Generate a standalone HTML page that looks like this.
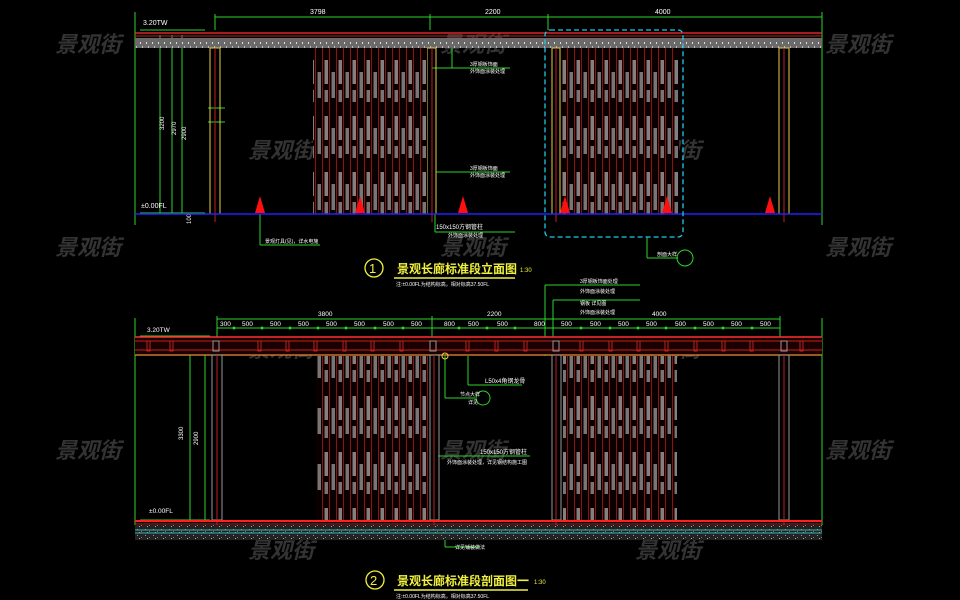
<!DOCTYPE html>
<html><head><meta charset="utf-8"><style>
html,body{margin:0;padding:0;background:#000;width:960px;height:600px;overflow:hidden}
svg{display:block}
text{font-family:"Liberation Sans","Noto Sans CJK SC",sans-serif}
</style></head><body>
<svg width="960" height="600" viewBox="0 0 960 600" xmlns="http://www.w3.org/2000/svg">
<defs>
<pattern id="scr" width="14" height="56" patternUnits="userSpaceOnUse">
<rect width="14" height="56" fill="#0a0000"/>
<line x1="0.5" y1="0" x2="0.5" y2="56" stroke="#8a1414" stroke-width="1"/>
<line x1="7.5" y1="0" x2="7.5" y2="56" stroke="#8a1414" stroke-width="1"/>
<rect x="2.5" y="4" width="3.5" height="24" fill="#858080"/>
<rect x="9.5" y="16" width="3.5" height="26" fill="#7a7575"/>
<rect x="2.5" y="34" width="3.5" height="12" fill="#7a7575"/>
</pattern>
<pattern id="beam" width="6" height="10" patternUnits="userSpaceOnUse">
<rect width="6" height="10" fill="#6a6a6a"/>
<rect x="2" y="2" width="1" height="2" fill="#ddd"/>
<rect x="4" y="6" width="1" height="2" fill="#bbb"/>
</pattern>
<pattern id="grav" width="8" height="6" patternUnits="userSpaceOnUse">
<rect width="8" height="6" fill="#222"/>
<rect x="1" y="1" width="1" height="1" fill="#999"/>
<rect x="5" y="3" width="1" height="1" fill="#777"/>
<rect x="3" y="4" width="1" height="1" fill="#aaa"/>
</pattern>
</defs>

<!-- watermarks -->
<g fill="#333" font-size="22" font-style="italic" font-weight="bold">
<text x="55" y="52">景观街</text><text x="440" y="52">景观街</text><text x="825" y="52">景观街</text>
<text x="248" y="158">景观街</text><text x="635" y="158">景观街</text>
<text x="55" y="255">景观街</text><text x="440" y="255">景观街</text><text x="825" y="255">景观街</text>
<text x="248" y="357">景观街</text><text x="635" y="357">景观街</text>
<text x="55" y="458">景观街</text><text x="440" y="458">景观街</text><text x="825" y="458">景观街</text>
<text x="248" y="558">景观街</text><text x="635" y="558">景观街</text>
</g>

<!-- ============ TOP ELEVATION ============ -->
<g stroke="#2cd52c" stroke-width="1" fill="none">
<line x1="135" y1="12" x2="135" y2="225"/>
<line x1="822" y1="12" x2="822" y2="225"/>
<line x1="215" y1="17" x2="822" y2="17"/>
<line x1="215" y1="14" x2="215" y2="30"/><line x1="430" y1="14" x2="430" y2="30"/>
<line x1="548" y1="14" x2="548" y2="30"/><line x1="822" y1="14" x2="822" y2="30"/>
<line x1="160" y1="35" x2="160" y2="214"/><line x1="172" y1="35" x2="172" y2="214"/><line x1="182" y1="35" x2="182" y2="214"/>
<line x1="140" y1="30" x2="205" y2="30"/>
<line x1="140" y1="213" x2="205" y2="213"/>
<line x1="208" y1="108" x2="225" y2="108"/><line x1="208" y1="122" x2="225" y2="122"/>
<line x1="432" y1="68" x2="452" y2="68"/><line x1="452" y1="40" x2="452" y2="68"/><line x1="452" y1="68" x2="510" y2="68"/>
<line x1="436" y1="172" x2="510" y2="172"/>
<line x1="435" y1="214" x2="435" y2="232"/><line x1="435" y1="232" x2="515" y2="232"/>
<line x1="260" y1="214" x2="260" y2="245"/><line x1="260" y1="245" x2="320" y2="245"/>
<line x1="647" y1="237" x2="647" y2="258"/><line x1="647" y1="258" x2="678" y2="258"/>
<circle cx="685" cy="258" r="8"/>
</g>
<g fill="#fff" font-size="7">
<text x="310" y="14">3798</text><text x="485" y="14">2200</text><text x="655" y="14">4000</text>
<text x="143" y="25">3.20TW</text><text x="141" y="208">±0.00FL</text>
<text x="470" y="66" font-size="5">3厚钢板饰面</text><text x="470" y="73" font-size="5">外饰面涂装处理</text>
<text x="470" y="170" font-size="5">3厚钢板饰面</text><text x="470" y="177" font-size="5">外饰面涂装处理</text>
<text x="436" y="229" font-size="6">150x150方钢管柱</text><text x="448" y="237" font-size="5">外饰面涂装处理</text>
<text x="265" y="243" font-size="5">景观灯具(见)，详水电施</text>
<text x="657" y="256" font-size="5">剖面大样</text>
</g>
<g fill="#fff" font-size="6">
<text transform="translate(164,130) rotate(-90)">3200</text>
<text transform="translate(176,135) rotate(-90)">2970</text>
<text transform="translate(186,140) rotate(-90)">2900</text>
<text transform="translate(191,224) rotate(-90)">100</text>
</g>
<!-- beam -->
<line x1="135" y1="33" x2="822" y2="33" stroke="#ff3030" stroke-width="1.2"/>
<line x1="135" y1="36" x2="822" y2="36" stroke="#c02020" stroke-width="1"/>
<rect x="135" y="38" width="687" height="10" fill="url(#beam)"/>
<!-- posts -->
<g fill="none" stroke-width="1">
<rect x="210" y="48" width="10" height="166" stroke="#e8d040"/><line x1="215" y1="48" x2="215" y2="222" stroke="#c02020"/>
<rect x="427" y="48" width="9" height="166" stroke="#e8d040"/><line x1="432" y1="48" x2="432" y2="222" stroke="#c02020"/>
<rect x="552" y="48" width="8" height="166" stroke="#e8d040"/><line x1="556" y1="48" x2="556" y2="222" stroke="#c02020"/>
<rect x="779" y="48" width="10" height="166" stroke="#e8d040"/><line x1="784" y1="48" x2="784" y2="222" stroke="#c02020"/>
</g>
<rect x="313" y="48" width="114" height="166" fill="url(#scr)"/>
<rect x="561" y="48" width="118" height="166" fill="url(#scr)"/>
<line x1="135" y1="214" x2="822" y2="214" stroke="#2020ff" stroke-width="1.5"/>
<g fill="#ff1010">
<polygon points="255,213 265,213 260,196"/><polygon points="355,213 365,213 360,196"/>
<polygon points="458,213 468,213 463,196"/><polygon points="560,213 570,213 565,196"/>
<polygon points="662,213 672,213 667,196"/><polygon points="765,213 775,213 770,196"/>
</g>
<rect x="545" y="30" width="138" height="207" rx="5" fill="none" stroke="#20c8e8" stroke-dasharray="5,3" stroke-width="1.3"/>

<!-- title 1 -->
<circle cx="374" cy="268" r="9" fill="none" stroke="#f0f040" stroke-width="1.3"/>
<text x="369" y="273" fill="#f0f040" font-size="13">1</text>
<text x="397" y="273" fill="#f0f040" font-size="12" font-weight="bold">景观长廊标准段立面图</text>
<line x1="394" y1="278" x2="515" y2="278" stroke="#f0f040" stroke-width="1.5"/>
<text x="520" y="272" fill="#f0f040" font-size="6">1:30</text>
<text x="396" y="286" fill="#fff" font-size="5">注:±0.00FL为结构标高，相对标高37.50FL</text>

<!-- ============ BOTTOM SECTION ============ -->
<g stroke="#2cd52c" stroke-width="1" fill="none">
<line x1="135" y1="318" x2="135" y2="525"/><line x1="822" y1="318" x2="822" y2="525"/>
<line x1="217" y1="319" x2="780" y2="319"/>
<line x1="217" y1="328" x2="780" y2="328"/>
<line x1="217" y1="316" x2="217" y2="337"/><line x1="432" y1="316" x2="432" y2="337"/>
<line x1="553" y1="316" x2="553" y2="337"/><line x1="780" y1="316" x2="780" y2="337"/>
<line x1="190" y1="337" x2="190" y2="521"/><line x1="205" y1="337" x2="205" y2="521"/>
<line x1="140" y1="336" x2="210" y2="336"/><line x1="140" y1="520" x2="210" y2="520"/>
<line x1="545" y1="285" x2="545" y2="356"/><line x1="545" y1="285" x2="640" y2="285"/>
<line x1="553" y1="300" x2="553" y2="340"/><line x1="553" y1="300" x2="640" y2="300"/>
<line x1="468" y1="356" x2="468" y2="385"/><line x1="468" y1="385" x2="522" y2="385"/>
<line x1="445" y1="356" x2="445" y2="398"/><line x1="445" y1="398" x2="475" y2="398"/>
<circle cx="483" cy="398" r="7"/>
<line x1="438" y1="456" x2="530" y2="456"/>
<line x1="445" y1="525" x2="445" y2="547"/><line x1="445" y1="547" x2="480" y2="547"/>
</g>
<g fill="#2cd52c">
<circle cx="234" cy="328" r="1.5"/><circle cx="262" cy="328" r="1.5"/><circle cx="290" cy="328" r="1.5"/><circle cx="318" cy="328" r="1.5"/><circle cx="346" cy="328" r="1.5"/><circle cx="375" cy="328" r="1.5"/><circle cx="403" cy="328" r="1.5"/><circle cx="459" cy="328" r="1.5"/><circle cx="487" cy="328" r="1.5"/><circle cx="515" cy="328" r="1.5"/><circle cx="581" cy="328" r="1.5"/><circle cx="610" cy="328" r="1.5"/><circle cx="638" cy="328" r="1.5"/><circle cx="666" cy="328" r="1.5"/><circle cx="695" cy="328" r="1.5"/><circle cx="723" cy="328" r="1.5"/><circle cx="752" cy="328" r="1.5"/>
</g>
<g fill="#fff" font-size="6.5">
<text x="318" y="316">3800</text><text x="487" y="316">2200</text><text x="652" y="316">4000</text>
<text x="220" y="326">300</text><text x="242" y="326">500</text><text x="270" y="326">500</text><text x="298" y="326">500</text><text x="326" y="326">500</text><text x="354" y="326">500</text><text x="383" y="326">500</text><text x="411" y="326">500</text>
<text x="444" y="326">800</text><text x="468" y="326">500</text><text x="497" y="326">500</text><text x="534" y="326">800</text>
<text x="561" y="326">500</text><text x="590" y="326">500</text><text x="618" y="326">500</text><text x="646" y="326">500</text><text x="675" y="326">500</text><text x="703" y="326">500</text><text x="731" y="326">500</text><text x="760" y="326">500</text>
<text x="147" y="332">3.20TW</text><text x="149" y="513">±0.00FL</text>
<text x="580" y="283" font-size="5">3厚钢板饰面处理</text><text x="580" y="293" font-size="5">外饰面涂装处理</text>
<text x="580" y="305" font-size="5">钢板 详见图</text><text x="580" y="314" font-size="5">外饰面涂装处理</text>
<text x="485" y="383" font-size="6">L50x4角钢龙骨</text>
<text x="460" y="396" font-size="5">节点大样</text><text x="468" y="404" font-size="5">详见</text>
<text x="480" y="454" font-size="6">150x150方钢管柱</text>
<text x="447" y="464" font-size="5">外饰面涂装处理，详见钢结构施工图</text>
<text x="455" y="549" font-size="5">详见铺装做法</text>
</g>
<g fill="#fff" font-size="6">
<text transform="translate(183,440) rotate(-90)">3300</text>
<text transform="translate(198,445) rotate(-90)">2900</text>
<text transform="translate(193,353) rotate(-90)">300</text>
</g>
<!-- beam -->
<rect x="135" y="337" width="687" height="18" fill="#1a0000"/>
<line x1="135" y1="337" x2="822" y2="337" stroke="#ff3030" stroke-width="1.5"/>
<line x1="135" y1="341" x2="822" y2="341" stroke="#c02020"/>
<line x1="135" y1="350" x2="822" y2="350" stroke="#c02020"/>
<line x1="135" y1="355" x2="822" y2="355" stroke="#e89030" stroke-width="1.2"/>
<g stroke="#c02020" fill="none">
<rect x="147" y="341" width="3" height="10"/><rect x="170" y="341" width="3" height="10"/><rect x="258" y="341" width="3" height="10"/><rect x="286" y="341" width="3" height="10"/><rect x="314" y="341" width="3" height="10"/><rect x="343" y="341" width="3" height="10"/><rect x="371" y="341" width="3" height="10"/><rect x="400" y="341" width="3" height="10"/><rect x="466" y="341" width="3" height="10"/><rect x="495" y="341" width="3" height="10"/><rect x="524" y="341" width="3" height="10"/><rect x="580" y="341" width="3" height="10"/><rect x="609" y="341" width="3" height="10"/><rect x="637" y="341" width="3" height="10"/><rect x="665" y="341" width="3" height="10"/><rect x="694" y="341" width="3" height="10"/><rect x="722" y="341" width="3" height="10"/><rect x="750" y="341" width="3" height="10"/><rect x="800" y="341" width="3" height="10"/>
</g>
<g fill="none" stroke="#999" stroke-width="1">
<rect x="213" y="341" width="6" height="10"/><rect x="430" y="341" width="6" height="10"/><rect x="553" y="341" width="6" height="10"/><rect x="781" y="341" width="6" height="10"/>
<rect x="212" y="355" width="10" height="165"/><rect x="430" y="355" width="9" height="165"/><rect x="552" y="355" width="9" height="165"/><rect x="779" y="355" width="10" height="165"/>
</g>
<g stroke="#c02020"><line x1="217" y1="355" x2="217" y2="525"/><line x1="434" y1="355" x2="434" y2="525"/><line x1="556" y1="355" x2="556" y2="525"/><line x1="784" y1="355" x2="784" y2="525"/></g>
<circle cx="445" cy="356" r="3" fill="none" stroke="#e8d040"/>
<rect x="316" y="356" width="112" height="164" fill="url(#scr)"/>
<rect x="563" y="356" width="114" height="164" fill="url(#scr)"/>
<!-- ground -->
<line x1="135" y1="521" x2="822" y2="521" stroke="#ff2020" stroke-width="2"/>
<line x1="135" y1="524" x2="822" y2="524" stroke="#c02020"/>
<rect x="135" y="525" width="687" height="15" fill="url(#grav)"/>
<line x1="135" y1="530" x2="822" y2="530" stroke="#3cb0b0" stroke-width="1"/>
<line x1="135" y1="533" x2="822" y2="533" stroke="#3cb0b0" stroke-width="1"/>

<!-- title 2 -->
<circle cx="375" cy="580" r="9" fill="none" stroke="#f0f040" stroke-width="1.3"/>
<text x="370" y="585" fill="#f0f040" font-size="13">2</text>
<text x="397" y="585" fill="#f0f040" font-size="12" font-weight="bold">景观长廊标准段剖面图一</text>
<line x1="394" y1="590" x2="528" y2="590" stroke="#f0f040" stroke-width="1.5"/>
<text x="534" y="584" fill="#f0f040" font-size="6">1:30</text>
<text x="396" y="598" fill="#fff" font-size="5">注:±0.00FL为结构标高，相对标高37.50FL</text>
</svg>
</body></html>
